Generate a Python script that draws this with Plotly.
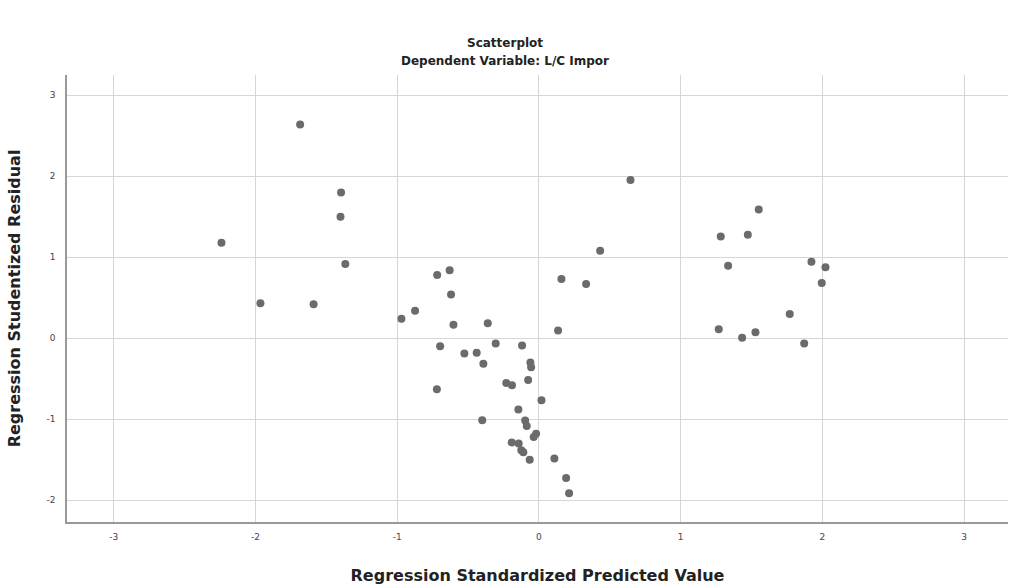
import plotly.graph_objects as go

# Regression Standardized Predicted Value (x) and Studentized Residual (y)
pred = [-1.685, -1.396, -1.40, -2.24, -1.366, -1.965, -1.59,
        0.432, -0.718, -0.63, 0.159, 0.333, -0.62, -0.874, -0.97, -0.603, -0.361,
        0.135, -0.697, -0.305, -0.119, -0.526, -0.439, -0.392, -0.06, -0.055,
        -0.076, -0.23, -0.19, -0.72, 0.018, -0.145, -0.40, -0.097, -0.086,
        -0.02, -0.037, -0.192, -0.143, -0.124, -0.11, -0.065, 0.109, 0.192, 0.213,
        0.646, 1.551, 1.283, 1.474, 1.335, 1.923, 2.022, 1.996, 1.77, 1.269,
        1.434, 1.528, 1.872]
resid = [2.64, 1.80, 1.50, 1.18, 0.916, 0.43, 0.42,
         1.08, 0.78, 0.84, 0.73, 0.67, 0.54, 0.34, 0.24, 0.165, 0.185,
         0.095, -0.10, -0.065, -0.09, -0.19, -0.18, -0.315, -0.30, -0.36,
         -0.517, -0.555, -0.58, -0.63, -0.767, -0.88, -1.013, -1.017, -1.083,
         -1.18, -1.22, -1.288, -1.30, -1.383, -1.41, -1.50, -1.485, -1.728, -1.916,
         1.954, 1.589, 1.256, 1.277, 0.895, 0.945, 0.875, 0.68, 0.30, 0.11,
         0.005, 0.074, -0.065]

x_ticks = [-3, -2, -1, 0, 1, 2, 3]
y_ticks = [-2, -1, 0, 1, 2, 3]

title_main = "Scatterplot"
title_sub = "Dependent Variable: L/C Impor"
x_title = "Regression Standardized Predicted Value"
y_title = "Regression Studentized Residual"

font_family = "DejaVu Sans, Verdana, sans-serif"

W, H = 1010, 585
ML, MR, MT, MB = 67, 2, 75, 61
plot_w = W - ML - MR
plot_h = H - MT - MB


def fig_px_to_paper(px, py):
    return (px - ML) / plot_w, (H - MB - py) / plot_h


fig = go.Figure()
fig.add_trace(go.Scatter(
    x=pred, y=resid, mode="markers",
    marker=dict(size=8, color="#6b6b6b", line=dict(width=0)),
    showlegend=False, hoverinfo="x+y",
))

fig.update_layout(
    width=W, height=H,
    margin=dict(l=ML, r=MR, t=MT, b=MB),
    paper_bgcolor="white", plot_bgcolor="white",
    font=dict(family=font_family, color="#222"),
)

ax, ay = fig_px_to_paper(505, 43)
bx, by = fig_px_to_paper(505, 61)
fig.add_annotation(text="<b>" + title_main + "</b>", x=ax, y=ay, xref="paper", yref="paper",
                   showarrow=False, font=dict(size=12, color="#222"), yanchor="middle")
fig.add_annotation(text="<b>" + title_sub + "</b>", x=bx, y=by, xref="paper", yref="paper",
                   showarrow=False, font=dict(size=12, color="#222"), yanchor="middle")

fig.update_xaxes(
    range=[-3.33, 3.31], tickvals=x_ticks, ticktext=[str(v) for v in x_ticks],
    showgrid=True, gridcolor="#d6d6d6", gridwidth=1.3, zeroline=False,
    showline=True, linecolor="#999999", linewidth=1.5, mirror=False,
    ticks="", tickfont=dict(size=9, color="#444"), ticklabelstandoff=5,
    title=dict(text="<b>" + x_title + "</b>", font=dict(size=16, color="#222"), standoff=30),
)
fig.update_yaxes(
    range=[-2.27, 3.25], tickvals=y_ticks, ticktext=[str(v) for v in y_ticks],
    showgrid=True, gridcolor="#d6d6d6", gridwidth=1.3, zeroline=False,
    showline=True, linecolor="#999999", linewidth=1.5, mirror=False,
    ticks="", tickfont=dict(size=9, color="#444"), ticklabelstandoff=8,
    title=dict(text="<b>" + y_title + "</b>", font=dict(size=16, color="#222"), standoff=22),
)

fig.write_html(
    "out.html",
    config={"displayModeBar": False},
    post_script="document.body.style.margin='0';document.body.style.overflow='hidden';",
)
